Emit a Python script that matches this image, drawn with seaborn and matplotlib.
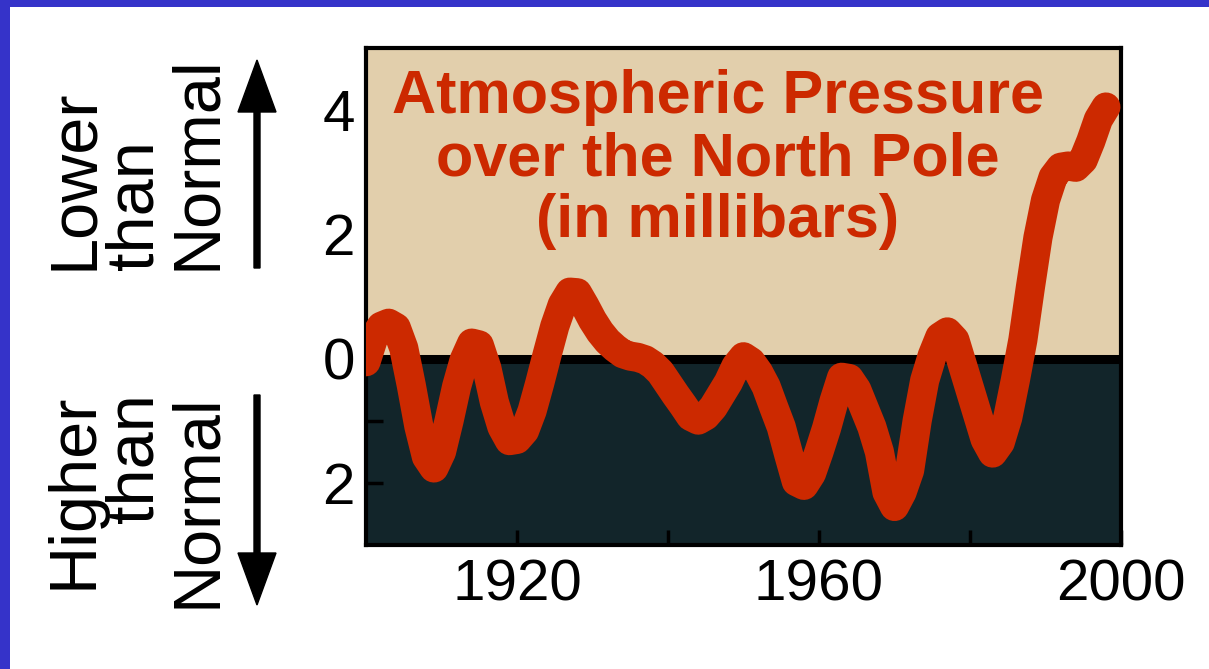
import matplotlib
matplotlib.use("Agg")
import matplotlib.pyplot as plt
from matplotlib.patches import Rectangle, FancyArrow
from matplotlib.transforms import IdentityTransform
import seaborn as sns

# pressure anomaly, one value per year
years = list(range(1900, 1999))
pressure = [
    -0.05, 0.33, 0.52, 0.57, 0.50, 0.17, -0.43, -1.09, -1.58, -1.76,   # 1900s
    -1.50, -1.00, -0.45, -0.02, 0.25, 0.22, -0.15, -0.70, -1.10, -1.32,  # 1910s
    -1.30, -1.16, -0.84, -0.40, 0.07, 0.52, 0.87, 1.07, 1.06, 0.85,    # 1920s
    0.62, 0.43, 0.28, 0.17, 0.08, 0.04, 0.02, -0.02, -0.10, -0.22,     # 1930s
    -0.40, -0.58, -0.75, -0.93, -0.99, -0.92, -0.78, -0.58, -0.38, -0.12,  # 1940s
    0.03, -0.05, -0.22, -0.45, -0.78, -1.10, -1.55, -1.98, -2.04, -1.85,  # 1950s
    -1.50, -1.12, -0.68, -0.30, -0.32, -0.50, -0.80, -1.10, -1.50, -2.15,  # 1960s
    -2.38, -2.15, -1.80, -1.00, -0.35, 0.05, 0.35, 0.43, 0.30, -0.10,   # 1970s
    -0.50, -0.90, -1.30, -1.52, -1.35, -0.95, -0.35, 0.30, 1.15, 1.95,  # 1980s
    2.55, 2.92, 3.08, 3.10, 3.08, 3.20, 3.50, 3.85, 4.05,               # 1990s
]

title_lines = ["Atmospheric Pressure", "over the North Pole", "(in millibars)"]
x_ticks = [1920, 1960, 2000]
x_minor = [1940, 1980]
y_ticks = [4, 2, 0, -2]
y_labels = ["4", "2", "0", "2"]
upper_words = ["Lower", "than", "Normal"]
lower_words = ["Higher", "than", "Normal"]

RED = "#cc2900"
TAN = "#e2cfac"
DARK = "#12252a"
BLUE = "#3533c9"

sns.set_theme(style="white")
plt.rcParams["font.family"] = ["Liberation Sans", "DejaVu Sans"]

W, H = 1209, 669
fig = plt.figure(figsize=(W / 100, H / 100), dpi=100)
fig.patch.set_facecolor("white")

# blue frame on top and left
fig.add_artist(Rectangle((0, 1 - 7 / H), 1, 7 / H, transform=fig.transFigure,
                         color=BLUE, lw=0))
fig.add_artist(Rectangle((0, 0), 10 / W, 1, transform=fig.transFigure,
                         color=BLUE, lw=0))

ax = fig.add_axes([366 / W, 1 - 545 / H, (1121 - 366) / W, (545 - 48) / H])
ax.axhspan(0, 5, color=TAN, lw=0, zorder=0)
ax.axhspan(-3, 0, color=DARK, lw=0, zorder=0)
ax.axhline(0, color="black", lw=6.5, zorder=1)

sns.lineplot(x=years, y=pressure, ax=ax, color=RED, linewidth=21,
             solid_capstyle="round", solid_joinstyle="round", zorder=3)

ax.set_xlim(1900, 2000)
ax.set_ylim(-3, 5)
ax.set_xlabel("")
ax.set_ylabel("")

ax.set_xticks(x_ticks)
ax.set_xticks(x_minor, minor=True)
ax.set_yticks(y_ticks, labels=y_labels)
ax.set_yticks([-1], minor=True)
ax.tick_params(axis="x", which="both", direction="in", length=11, width=2.5,
               color="#000000", pad=10, labelsize=42, labelcolor="black",
               bottom=True, top=False)
ax.tick_params(axis="y", which="both", direction="in", length=12, width=2.5,
               color="#000000", pad=8, labelsize=42, labelcolor="black",
               left=True, right=False)
for tick, val in zip(ax.yaxis.get_major_ticks(), y_ticks):
    tick.tick1line.set_visible(val < 0)

for side in ["left", "right", "top", "bottom"]:
    ax.spines[side].set_visible(True)
    ax.spines[side].set_color("black")
    ax.spines[side].set_linewidth(3)

# title inside the plot
for line, y_px in zip(title_lines, [113, 175, 237]):
    ax.text(0.466, (545 - y_px) / 497, line, transform=ax.transAxes,
            ha="center", va="baseline", color=RED, fontsize=44,
            fontweight="bold", zorder=4)

# side labels
for word, x_px in zip(upper_words, [92, 153, 215]):
    fig.text(x_px / W, 1 - 270 / H, word, rotation=90, rotation_mode="anchor",
             ha="left", va="baseline", fontsize=48, color="black")
for word, x_px in zip(lower_words, [92, 153, 215]):
    fig.text(x_px / W, 1 - 393 / H, word, rotation=90, rotation_mode="anchor",
             ha="right", va="baseline", fontsize=48, color="black")

fig.add_artist(FancyArrow(257, H - 268, 0, 208, width=6, head_width=38,
                          head_length=52, length_includes_head=True,
                          color="black", transform=IdentityTransform()))
fig.add_artist(FancyArrow(257, H - 395, 0, -210, width=6, head_width=38,
                          head_length=52, length_includes_head=True,
                          color="black", transform=IdentityTransform()))

fig.savefig("out.png", dpi=100)
